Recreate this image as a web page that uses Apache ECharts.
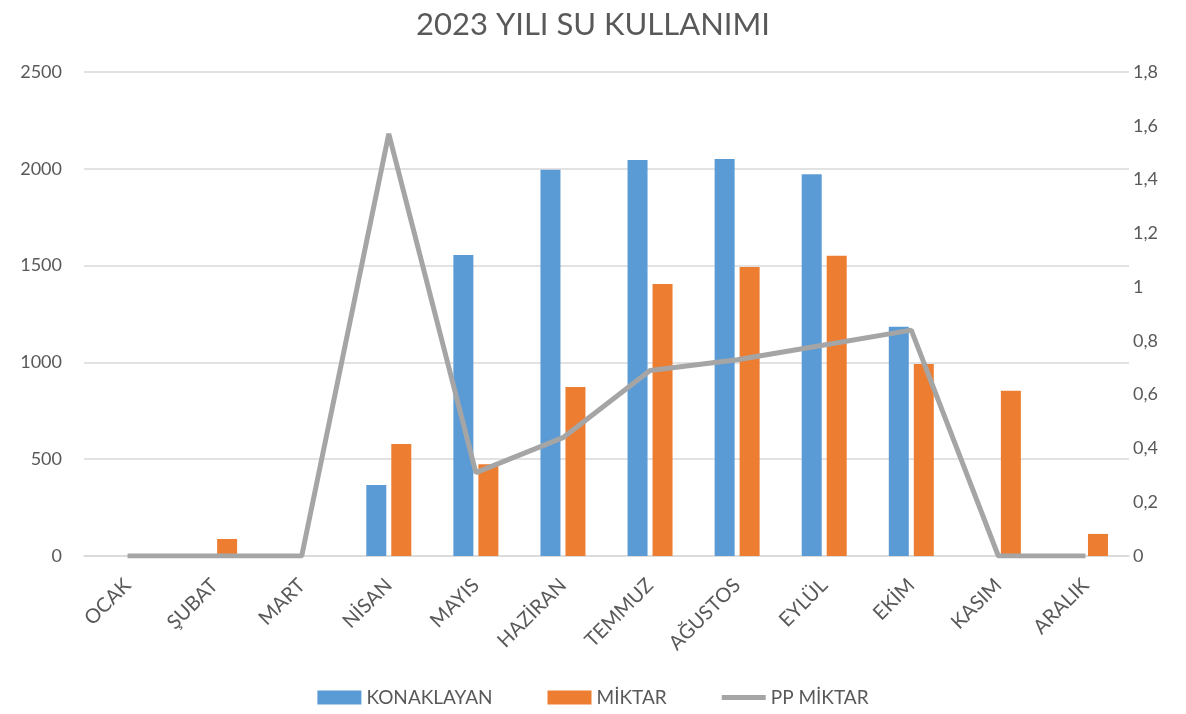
<!DOCTYPE html>
<html>
<head>
<meta charset="utf-8">
<script src="https://cdn.jsdelivr.net/npm/echarts@6/dist/echarts.min.js"></script>
<style>
  html, body { margin: 0; padding: 0; background: #fff; }
  #main { width: 1186px; height: 714px; }
</style>
</head>
<body>
<div id="main"></div>
<script>
// aylar
var months = ['OCAK', 'ŞUBAT', 'MART', 'NİSAN', 'MAYIS', 'HAZİRAN', 'TEMMUZ', 'AĞUSTOS', 'EYLÜL', 'EKİM', 'KASIM', 'ARALIK'];
var konaklayan = [0, 0, 0, 367, 1555, 1995, 2045, 2050, 1972, 1184, 0, 0];
var miktar = [0, 88, 0, 578, 474, 873, 1405, 1493, 1551, 992, 854, 114];
var ppMiktar = [0, 0, 0, 1.57, 0.31, 0.44, 0.69, 0.73, 0.785, 0.84, 0, 0];

var font = 'Lato';
var txt = '#595959';

var chart = echarts.init(document.getElementById('main'));
chart.setOption({
  animation: false,
  title: {
    text: '2023 YILI SU KULLANIMI',
    left: 'center',
    top: 4,
    textStyle: { fontFamily: font, fontSize: 31, fontWeight: 'normal', color: txt }
  },
  legend: {
    bottom: 2,
    itemGap: 55,
    itemWidth: 44,
    itemHeight: 14,
    textStyle: { fontFamily: font, fontSize: 19, color: txt },
    data: [
      { name: 'KONAKLAYAN', icon: 'rect' },
      { name: 'MİKTAR', icon: 'rect' },
      { name: 'PP MİKTAR', icon: 'path://M0,0 L0.01,0 Z M0,4.5 L44,4.5 L44,9.5 L0,9.5 Z M0,14 L0.01,14 Z' }
    ]
  },
  grid: { left: 84, right: 57, top: 72, bottom: 158 },
  xAxis: {
    type: 'category',
    data: months,
    axisTick: { show: false },
    axisLine: { lineStyle: { color: '#d9d9d9', width: 1.5 } },
    axisLabel: { rotate: 45, fontFamily: font, fontSize: 20, color: txt, margin: 26 }
  },
  yAxis: [
    {
      type: 'value', min: 0, max: 2500, interval: 500,
      axisLabel: { fontFamily: font, fontSize: 18, color: txt, margin: 22, formatter: function (v) { return String(v); } },
      splitLine: { lineStyle: { color: '#d9d9d9', width: 1.5 } }
    },
    {
      type: 'value', min: 0, max: 1.8, interval: 0.2,
      axisLabel: {
        fontFamily: font, fontSize: 18, color: txt, margin: 4,
        formatter: function (v) { return String(Math.round(v * 10) / 10).replace('.', ','); }
      },
      splitLine: { show: false }
    }
  ],
  series: [
    {
      name: 'KONAKLAYAN', type: 'bar', data: konaklayan,
      barWidth: 20, barGap: '25%',
      itemStyle: { color: '#5b9bd5' }
    },
    {
      name: 'MİKTAR', type: 'bar', data: miktar,
      barWidth: 20,
      itemStyle: { color: '#ed7d31' }
    },
    {
      name: 'PP MİKTAR', type: 'line', yAxisIndex: 1, data: ppMiktar,
      symbol: 'none',
      lineStyle: { color: '#a5a5a5', width: 5 },
      itemStyle: { color: '#a5a5a5' }
    }
  ]
});
</script>
</body>
</html>
